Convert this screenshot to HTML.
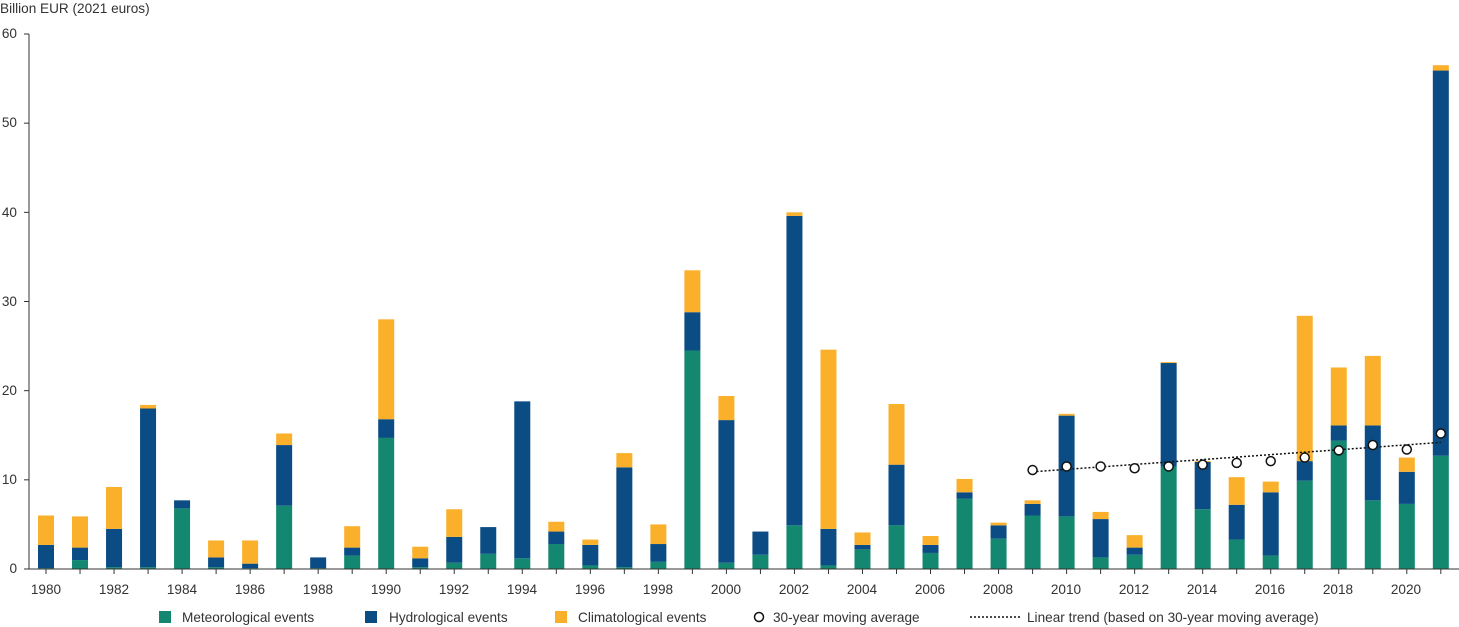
<!DOCTYPE html>
<html><head><meta charset="utf-8"><style>
html,body{margin:0;padding:0;background:#fff;}
svg{display:block;font-family:"Liberation Sans",sans-serif;}
text{font-size:13.6px;fill:#333;}
</style></head><body>
<svg id="c" width="1459" height="627" viewBox="0 0 1459 627">
<text x="0" y="13">Billion EUR (2021 euros)</text>
<g text-anchor="end">
<text x="17" y="573">0</text><text x="17" y="484">10</text><text x="17" y="395">20</text>
<text x="17" y="306">30</text><text x="17" y="217">40</text><text x="17" y="127">50</text><text x="17" y="38">60</text>
</g>
<g text-anchor="middle">
<text x="46" y="594">1980</text><text x="114" y="594">1982</text><text x="182" y="594">1984</text>
<text x="250" y="594">1986</text><text x="318" y="594">1988</text><text x="386" y="594">1990</text>
<text x="454" y="594">1992</text><text x="522" y="594">1994</text><text x="590" y="594">1996</text>
<text x="658" y="594">1998</text><text x="726" y="594">2000</text><text x="794" y="594">2002</text>
<text x="862" y="594">2004</text><text x="930" y="594">2006</text><text x="998" y="594">2008</text>
<text x="1066" y="594">2010</text><text x="1134" y="594">2012</text><text x="1202" y="594">2014</text>
<text x="1270" y="594">2016</text><text x="1338" y="594">2018</text><text x="1406" y="594">2020</text>
</g>
<g id="bars"></g>
<line x1="29" y1="34" x2="29" y2="569" stroke="#333"/>
<line x1="29" y1="569" x2="1459" y2="569" stroke="#333"/>
<g id="ticks" stroke="#333"></g>
<g id="ma"></g>
<rect x="159" y="611" width="12" height="12" fill="#13876f"/><text x="182" y="622">Meteorological events</text>
<rect x="365" y="611" width="12" height="12" fill="#0b4c84"/><text x="389" y="622">Hydrological events</text>
<rect x="555" y="611" width="12" height="12" fill="#fbb02b"/><text x="578" y="622">Climatological events</text>
<circle cx="759" cy="617" r="4.5" fill="#fff" stroke="#111" stroke-width="1.5"/><text x="773" y="622">30-year moving average</text>
<line x1="970" y1="617" x2="1020" y2="617" stroke="#111" stroke-width="1.5" stroke-dasharray="2,2"/><text x="1027" y="622">Linear trend (based on 30-year moving average)</text>
</svg>
<script>
var d=[[0.1,2.6,3.3],[1.0,1.4,3.5],[0.2,4.3,4.7],[0.2,17.8,0.4],[6.8,0.9,0],[0.2,1.1,1.9],[0.1,0.5,2.6],[7.1,6.8,1.3],[0.1,1.2,0],[1.5,0.9,2.4],[14.7,2.1,11.2],[0.2,1.0,1.3],[0.7,2.9,3.1],[1.7,3.0,0],[1.2,17.6,0],[2.8,1.4,1.1],[0.4,2.3,0.6],[0.2,11.2,1.6],[0.8,2.0,2.2],[24.5,4.3,4.7],[0.7,16.0,2.7],[1.6,2.6,0],[4.9,34.7,0.4],[0.4,4.1,20.1],[2.2,0.5,1.4],[4.9,6.8,6.8],[1.8,0.9,1.0],[7.9,0.7,1.5],[3.4,1.5,0.3],[6.0,1.3,0.4],[5.9,11.3,0.2],[1.3,4.3,0.8],[1.6,0.8,1.4],[11.5,11.6,0.1],[6.7,5.3,0.1],[3.3,3.9,3.1],[1.5,7.1,1.2],[9.9,2.2,16.3],[14.4,1.7,6.5],[7.7,8.4,7.8],[7.3,3.6,1.6],[12.7,43.2,0.6]];
var S=535/60,y0=569,h='',t='';var col=['#13876f','#0b4c84','#fbb02b'];
function X(i){return 46+i*34.02;}
d.forEach(function(v,i){var y=y0;for(var k=0;k<3;k++){var hh=v[k]*S;if(hh>0){y-=hh;h+='<rect x="'+(X(i)-8)+'" y="'+y+'" width="16" height="'+hh+'" fill="'+col[k]+'"/>';}}
t+='<line x1="'+X(i)+'" y1="569" x2="'+X(i)+'" y2="574"/>';});
for(var j=0;j<=6;j++)t+='<line x1="24" y1="'+(y0-j*10*S)+'" x2="29" y2="'+(y0-j*10*S)+'"/>';
document.getElementById('bars').innerHTML=h;document.getElementById('ticks').innerHTML=t;
var ma=[11.1,11.5,11.5,11.3,11.5,11.7,11.9,12.1,12.5,13.3,13.9,13.4,15.2],m='';
m+='<line x1="'+X(29)+'" y1="'+(y0-10.9*S)+'" x2="'+X(41)+'" y2="'+(y0-14.2*S)+'" stroke="#111" stroke-width="1.5" stroke-dasharray="2,2"/>';
ma.forEach(function(v,i){m+='<circle cx="'+X(29+i)+'" cy="'+(y0-v*S)+'" r="4.5" fill="#fff" stroke="#111" stroke-width="1.5"/>';});
document.getElementById('ma').innerHTML=m;
</script>
</body></html>
